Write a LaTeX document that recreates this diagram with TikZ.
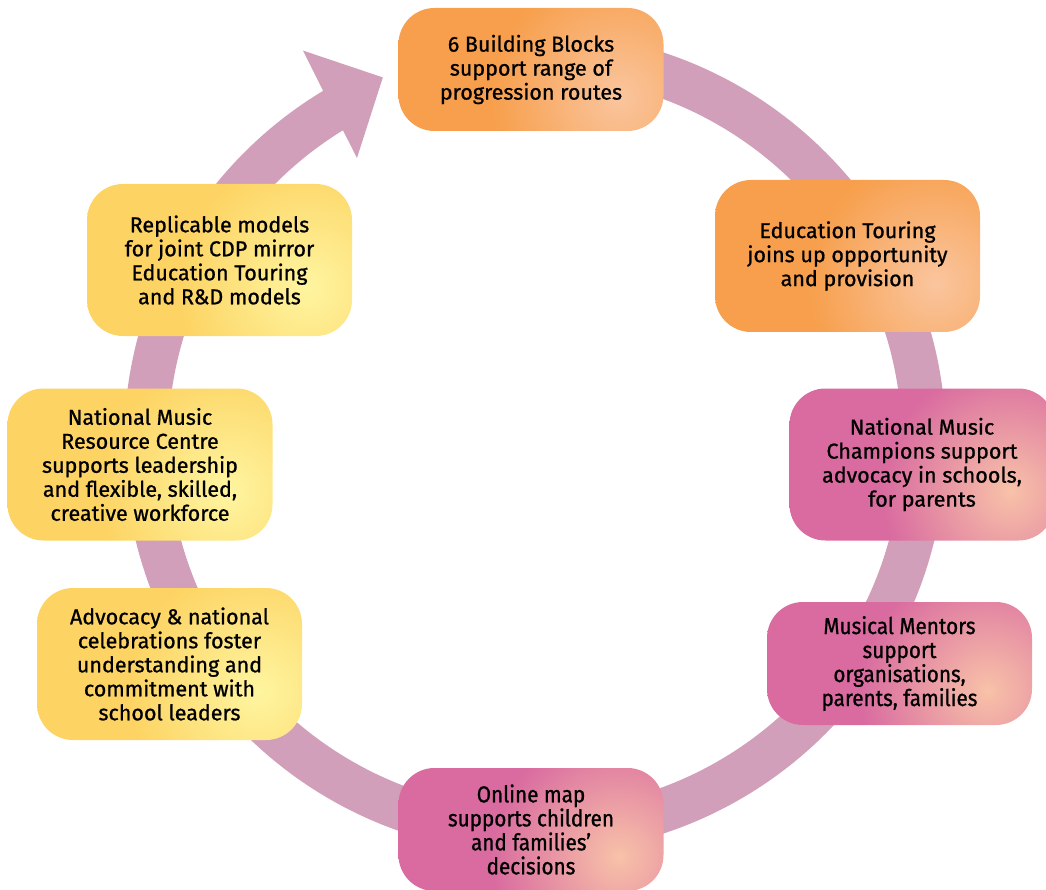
\documentclass[tikz,border=0pt]{standalone}
\usepackage{fontspec}
\setmainfont{Fira Sans}[FakeBold=0.9]
\newfontfamily\narrowfont[FakeStretch=0.9,FakeBold=0.9]{Fira Sans}
\usetikzlibrary{calc}
\definecolor{ringc}{RGB}{210,159,187}
\definecolor{orbase}{RGB}{247,159,76}
\definecolor{orhl}{RGB}{250,197,158}
\definecolor{pkbase}{RGB}{217,107,160}
\definecolor{pkhl}{RGB}{248,194,168}
\definecolor{yebase}{RGB}{253,212,100}
\definecolor{yehl}{RGB}{254,245,160}
\pgfdeclareradialshading{orshade}{\pgfpointorigin}{color(0bp)=(orhl); color(10bp)=(orbase); color(50bp)=(orbase)}
\pgfdeclareradialshading{pkshade}{\pgfpointorigin}{color(0bp)=(pkhl); color(10bp)=(pkbase); color(50bp)=(pkbase)}
\pgfdeclareradialshading{yeshade}{\pgfpointorigin}{color(0bp)=(yehl); color(10bp)=(yebase); color(50bp)=(yebase)}
\tikzset{
  box/.style={rounded corners=36pt, minimum width=265pt, minimum height=152pt,
    align=center, font=\fontsize{21.5}{24}\selectfont, text=black, inner sep=0pt},
  shortbox/.style={minimum height=123pt},
  narrowtext/.style={font=\narrowfont\fontsize{23}{24}\selectfont},
  orangebox/.style={box, path picture={\shade[shading=orshade]
    ($(path picture bounding box.center)+(88pt,-27pt)$) circle (320pt);}},
  pinkbox/.style={box, path picture={\shade[shading=pkshade]
    ($(path picture bounding box.center)+(88pt,-27pt)$) circle (320pt);}},
  yellowbox/.style={box, path picture={\shade[shading=yeshade]
    ($(path picture bounding box.center)+(88pt,-27pt)$) circle (320pt);}},
  ringline/.style={draw=ringc, line width=44pt},
}
\begin{document}
\begin{tikzpicture}[x=1pt,y=-1pt]
\useasboundingbox (0,0) rectangle (1046,890);
\coordinate (C) at (535,443);
% ring
\draw[ringline] ($(C)+(-90:389)$) arc (-90:239.5:389);
\coordinate (hb1) at ($(C)+(239.4:456)$);
\coordinate (hb2) at ($(C)+(238:336)$);
\coordinate (tip) at ($(C)+(247.4:396)$);
\fill[ringc] (hb1) -- (tip) -- (hb2) -- cycle;
% boxes
\node[orangebox, shortbox] (n1) at (531,69.5) {6 Building Blocks\\support range of\\progression routes};
\node[orangebox] (n2) at (847.5,256) {Education Touring\\joins up opportunity\\and provision};
\node[pinkbox] (n3) at (922,464.5) {National Music\\Champions support\\advocacy in schools,\\for parents};
\node[pinkbox, shortbox, narrowtext] (n4) at (899.5,663.5) {Musical Mentors\\support\\organisations,\\parents, families};
\node[pinkbox, shortbox, narrowtext] (n5) at (531,829.5) {Online map\\supports children\\and families’\\decisions};
\node[yellowbox] (n6) at (169.5,664) {Advocacy \& national\\celebrations foster\\understanding and\\commitment with\\school leaders};
\node[yellowbox] (n7) at (140,464.5) {National Music\\Resource Centre\\supports leadership\\and flexible, skilled,\\creative workforce};
\node[yellowbox] (n8) at (219.5,260) {Replicable models\\for joint CDP mirror\\Education Touring\\and R\&D models};
\end{tikzpicture}
\end{document}
